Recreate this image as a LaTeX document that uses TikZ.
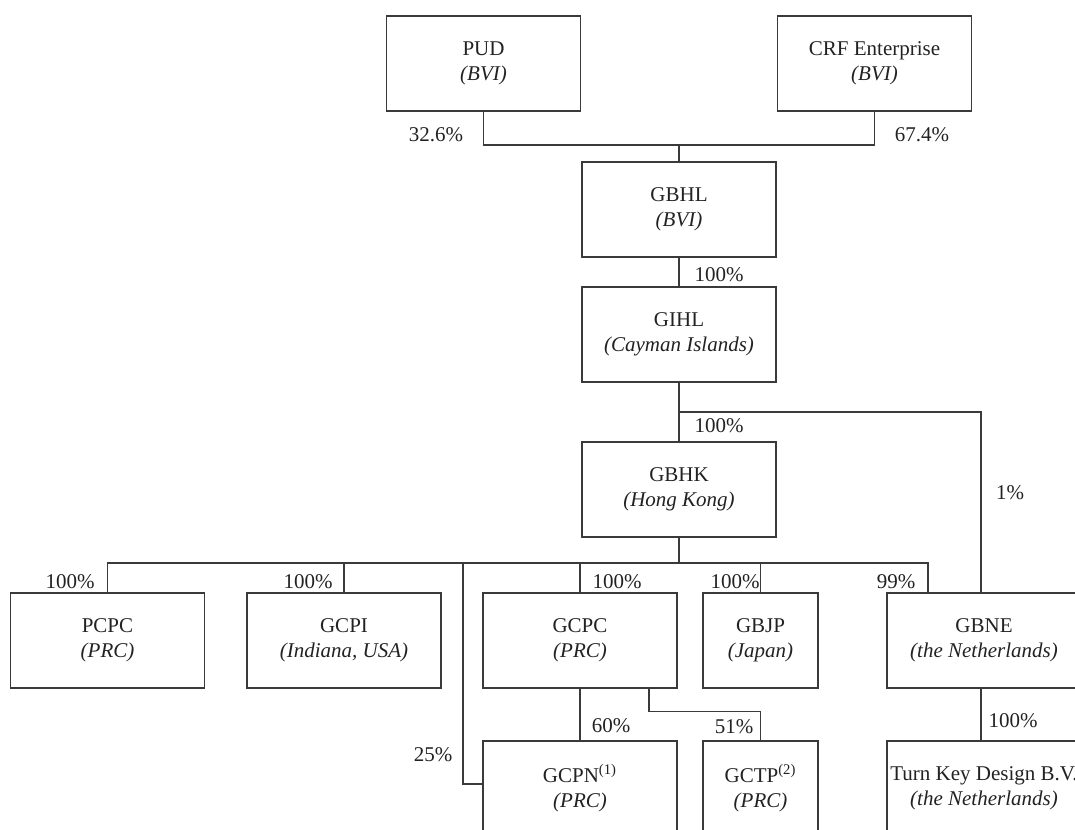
\documentclass[tikz,border=0pt]{standalone}
\usepackage{tikz}
\usepackage{fontspec}
\setmainfont{Liberation Serif}
\definecolor{linegray}{HTML}{3A3A3A}
\definecolor{inkgray}{HTML}{222222}
\begin{document}
\begin{tikzpicture}[x=0.5pt,y=-0.5pt,
  entity/.style={draw=linegray, line width=0.7pt, minimum width=97pt,
    minimum height=47.5pt, inner sep=0pt, align=center, text=inkgray,
    font=\fontsize{10.5}{12.5}\selectfont},
  smallentity/.style={entity, minimum width=57.5pt},
  share/.style={inner sep=0pt, text=inkgray, font=\fontsize{10.5}{12.5}\selectfont},
  link/.style={draw=linegray, line width=0.7pt}]
\useasboundingbox (0,0) rectangle (1075,829);
\clip (0,0) rectangle (1075,829);

% shareholders
\node[entity] (pud) at (483.5,63.5) {PUD\\\textit{(BVI)}};
\node[entity] (crf) at (874.5,63.5) {CRF Enterprise\\\textit{(BVI)}};

% holding chain
\node[entity] (gbhl) at (679,209.5) {GBHL\\\textit{(BVI)}};
\node[entity] (gihl) at (679,334.5) {GIHL\\\textit{(Cayman Islands)}};
\node[entity] (gbhk) at (679,489.5) {GBHK\\\textit{(Hong Kong)}};

% subsidiaries
\node[entity] (pcpc) at (107.5,640.5) {PCPC\\\textit{(PRC)}};
\node[entity] (gcpi) at (344,640.5) {GCPI\\\textit{(Indiana, USA)}};
\node[entity] (gcpc) at (580,640.5) {GCPC\\\textit{(PRC)}};
\node[smallentity] (gbjp) at (760.5,640.5) {GBJP\\\textit{(Japan)}};
\node[entity] (gbne) at (984,640.5) {GBNE\\\textit{(the Netherlands)}};

\node[entity] (gcpn) at (580,788.5) {GCPN\textsuperscript{(1)}\\\textit{(PRC)}};
\node[smallentity] (gctp) at (760.5,788.5) {GCTP\textsuperscript{(2)}\\\textit{(PRC)}};
\node[entity] (tkd) at (984,788.5) {Turn Key Design B.V.\\\textit{(the Netherlands)}};

% junction points
\coordinate (topbus) at (679,145);
\coordinate (split) at (679,412);
\coordinate (bus) at (679,563);
\coordinate (b25) at (463,563);
\coordinate (b99) at (928,563);

% connectors
\draw[link] (pud.south) |- (topbus) -| (crf.south);
\draw[link] (topbus) -- (gbhl.north);
\draw[link] (gbhl.south) -- (gihl.north);
\draw[link] (gihl.south) -- (gbhk.north);
\draw[link] (split) -| ([xshift=-1.5pt]gbne.north);
\draw[link] (gbhk.south) -- (bus);
\draw[link] (pcpc.north) |- (b99) -- (b99 |- gbne.north);
\draw[link] (gcpi.north) -- (gcpi.north |- bus);
\draw[link] (gcpc.north) -- (gcpc.north |- bus);
\draw[link] (gbjp.north) -- (gbjp.north |- bus);
\draw[link] (b25) |- ([yshift=2.25pt]gcpn.west);
\draw[link] (gcpc.south) -- (gcpn.north);
\draw[link] ([xshift=34.5pt]gcpc.south) -- ++(0,23) -| (gctp.north);
\draw[link] ([xshift=-1.5pt]gbne.south) -- ([xshift=-1.5pt]tkd.north);

% ownership percentages
\node[share] (l1) at (436,135) {32.6\%};
\node[share] (l2) at (922,135) {67.4\%};
\node[share] (l3) at (719,275) {100\%};
\node[share] (l4) at (719,426) {100\%};
\node[share] (l5) at (1010,493) {1\%};
\node[share] (l6) at (70,582) {100\%};
\node[share] (l7) at (308,582) {100\%};
\node[share] (l8) at (433,755) {25\%};
\node[share] (l9) at (617,582) {100\%};
\node[share] (l10) at (735,582) {100\%};
\node[share] (l11) at (896,582) {99\%};
\node[share] (l12) at (611,726) {60\%};
\node[share] (l13) at (734,727) {51\%};
\node[share] (l14) at (1013,721) {100\%};
\end{tikzpicture}
\end{document}
